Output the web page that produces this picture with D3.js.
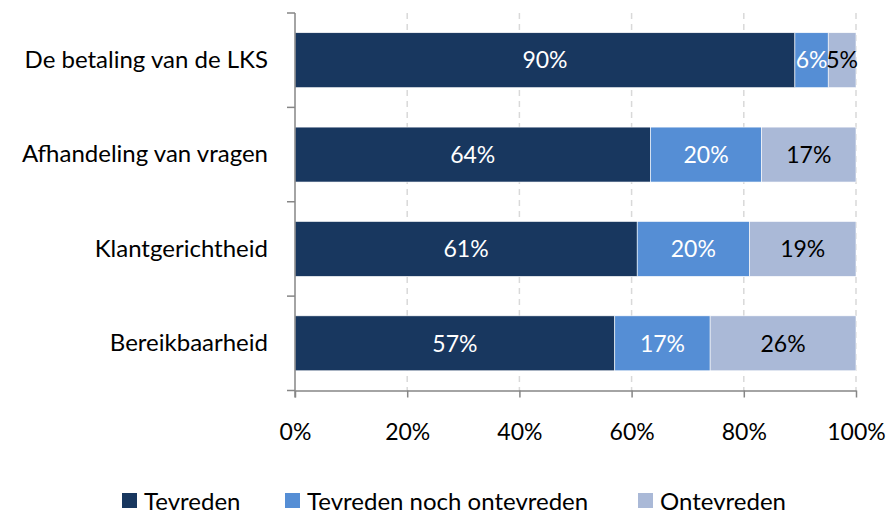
<!DOCTYPE html>
<html>
<head>
<meta charset="utf-8">
<script src="https://cdn.jsdelivr.net/npm/d3@7"></script>
<style>
  body { margin: 0; background: #fff; }
  svg { font-family: Lato, "Open Sans", sans-serif; }
</style>
</head>
<body>
<svg id="chart"></svg>
<script>
// data
var categories = ["De betaling van de LKS", "Afhandeling van vragen", "Klantgerichtheid", "Bereikbaarheid"];
var seriesNames = ["Tevreden", "Tevreden noch ontevreden", "Ontevreden"];
var tevreden = [90, 64, 61, 57];
var neutraal = [6, 20, 20, 17];
var ontevreden = [5, 17, 19, 26];
var xTicks = [0, 0.2, 0.4, 0.6, 0.8, 1];

var colors = ["#18375f", "#558ed5", "#aab9d7"];
var labelColors = ["#fff", "#fff", "#000"];

var width = 890, height = 513;
var plot = { left: 295, right: 856, top: 13, bottom: 390.5 };

var svg = d3.select("#chart")
    .attr("width", width)
    .attr("height", height);

var rows = categories.map(function(c, i) {
    return { cat: c, s0: tevreden[i], s1: neutraal[i], s2: ontevreden[i] };
});

// 100% stacked
var stack = d3.stack()
    .keys(["s0", "s1", "s2"])
    .offset(d3.stackOffsetExpand);
var stacked = stack(rows);

var x = d3.scaleLinear().domain([0, 1]).range([plot.left, plot.right]);
var y = d3.scaleBand()
    .domain(categories)
    .range([plot.top, plot.bottom])
    .paddingInner(0.418)
    .paddingOuter(0.209);

// grid lines
svg.append("g")
    .selectAll("line")
    .data(xTicks.slice(1))
    .enter()
    .append("line")
    .attr("x1", function(d) { return x(d); })
    .attr("x2", function(d) { return x(d); })
    .attr("y1", plot.top)
    .attr("y2", plot.bottom)
    .attr("stroke", "#d9d9d9")
    .attr("stroke-width", 1.5)
    .attr("stroke-dasharray", "6,5");

// bars
var layer = svg.append("g")
    .selectAll("g")
    .data(stacked)
    .enter()
    .append("g")
    .attr("fill", function(d, i) { return colors[i]; });

layer.selectAll("rect")
    .data(function(d) { return d; })
    .enter()
    .append("rect")
    .attr("x", function(d) { return x(d[0]); })
    .attr("width", function(d) { return x(d[1]) - x(d[0]); })
    .attr("y", function(d) { return y(d.data.cat); })
    .attr("height", y.bandwidth())
    .attr("stroke", "#fff")
    .attr("stroke-width", 0.6);

// value labels
layer.each(function(s, si) {
    d3.select(this).selectAll("text")
        .data(s)
        .enter()
        .append("text")
        .attr("x", function(d) { return (x(d[0]) + x(d[1])) / 2; })
        .attr("y", function(d) { return y(d.data.cat) + y.bandwidth() / 2; })
        .attr("dy", "0.36em")
        .attr("text-anchor", "middle")
        .attr("fill", labelColors[si])
        .style("font-size", "23px")
        .text(function(d) { return d.data["s" + si] + "%"; });
});

// x axis
var xAxis = d3.axisBottom(x)
    .tickValues(xTicks)
    .tickFormat(d3.format(".0%"))
    .tickSize(7)
    .tickSizeOuter(0)
    .tickPadding(26);

var gx = svg.append("g")
    .attr("transform", "translate(0," + plot.bottom + ")")
    .call(xAxis);
gx.select(".domain").attr("stroke", "#868686").attr("stroke-width", 1.5);
gx.selectAll(".tick line").attr("stroke", "#868686").attr("stroke-width", 1.5);
gx.selectAll(".tick text").attr("fill", "#000").style("font-size", "23px").style("font-family", "Lato, sans-serif");

// y axis
var gy = svg.append("g")
    .attr("transform", "translate(" + plot.left + ",0)")
    .call(d3.axisLeft(y).tickSize(0).tickPadding(27));
gy.select(".domain").remove();
gy.selectAll(".tick text").attr("fill", "#000").style("font-size", "24px").style("font-family", "Lato, sans-serif");

// vertical axis line and category boundary ticks
svg.append("line")
    .attr("x1", plot.left).attr("x2", plot.left)
    .attr("y1", plot.top).attr("y2", plot.bottom + 7)
    .attr("stroke", "#868686").attr("stroke-width", 1.5);

svg.append("g")
    .selectAll("line")
    .data(d3.range(categories.length + 1))
    .enter()
    .append("line")
    .attr("x1", plot.left - 8).attr("x2", plot.left)
    .attr("y1", function(i) { return plot.top + i * y.step(); })
    .attr("y2", function(i) { return plot.top + i * y.step(); })
    .attr("stroke", "#868686").attr("stroke-width", 1.5);

// legend
var legendX = [122, 285, 638];
var legend = svg.append("g")
    .selectAll("g")
    .data(seriesNames)
    .enter()
    .append("g")
    .attr("transform", function(d, i) { return "translate(" + legendX[i] + ",0)"; });

legend.append("rect")
    .attr("x", 0).attr("y", 493)
    .attr("width", 15).attr("height", 15)
    .attr("fill", function(d, i) { return colors[i]; });

legend.append("text")
    .attr("x", 22)
    .attr("y", 510)
    .style("font-size", "24px")
    .text(function(d) { return d; });
</script>
</body>
</html>
